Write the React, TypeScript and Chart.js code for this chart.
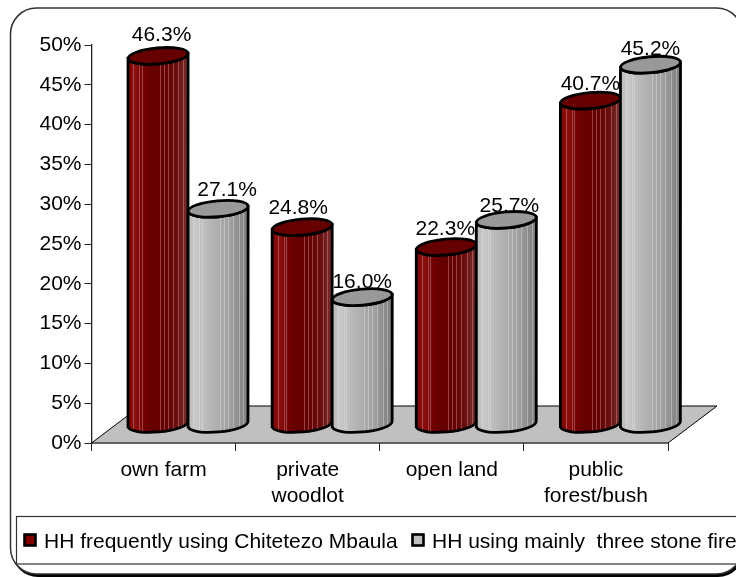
import React, { useEffect, useRef } from "react";
import { Chart, registerables } from "chart.js";

Chart.register(...registerables);

const categories = ["own farm", ["private", "woodlot"], "open land", ["public", "forest/bush"]];
const seriesChitetezo = [46.3, 24.8, 22.3, 40.7];
const seriesThreeStone = [27.1, 16.0, 25.7, 45.2];
const labelChitetezo = "HH frequently using Chitetezo Mbaula";
const labelThreeStone = "HH using mainly  three stone fire";

const FONT = '"Liberation Sans", Arial, sans-serif';
const DEPTH_X = 24.5;
const DEPTH_Y = -18.5;
const TILT = -0.09;
const RY = 8;

// Hand placement of the value labels relative to each cylinder's top.
const labelNudgeX = [[3.5, -4, -1, 0], [9, 0, 3, 0]];
const labelNudgeY = [[-21, -19, -18, -16], [-19, -15, -14, -16]];

type Look = { stops: [number, string][]; top: string; stripe: string; key: string };

const looks: Look[] = [
  {
    stops: [[0, "#7c0808"], [0.12, "#8c1010"], [0.27, "#720202"], [0.4, "#660000"], [0.62, "#660000"], [0.82, "#6a1010"], [1, "#7a3030"]],
    top: "#660000",
    stripe: "rgba(225,170,170,0.38)",
    key: "#800000",
  },
  {
    stops: [[0, "#b8b8b8"], [0.12, "#c8c8c8"], [0.4, "#b4b4b4"], [0.7, "#a0a0a0"], [1, "#7c7c7c"]],
    top: "#999999",
    stripe: "rgba(235,235,235,0.38)",
    key: "#c0c0c0",
  },
];

// Thin highlights across the cylinder wall, as fractions of its width.
const stripeOffsets = [0.09, 0.19, 0.23, 0.53, 0.6, 0.66, 0.75, 0.84, 0.92];

function drawCylinder(ctx: CanvasRenderingContext2D, cx: number, topY: number, baseY: number, w: number, look: Look) {
  const rx = w / 2;
  const left = cx - rx;
  const right = cx + rx;
  const lift = Math.sin(TILT) * rx;

  const wall = () => {
    ctx.beginPath();
    ctx.moveTo(left, topY - lift);
    ctx.lineTo(left, baseY - lift);
    ctx.ellipse(cx, baseY, rx, RY, TILT, Math.PI, 0, true);
    ctx.lineTo(right, topY + lift);
    ctx.ellipse(cx, topY, rx, RY, TILT, 0, Math.PI, false);
    ctx.closePath();
  };

  const grad = ctx.createLinearGradient(left, 0, right, 0);
  look.stops.forEach(([o, c]) => grad.addColorStop(o, c));

  ctx.save();
  wall();
  ctx.fillStyle = grad;
  ctx.fill();
  ctx.clip();
  ctx.strokeStyle = look.stripe;
  ctx.lineWidth = 1;
  stripeOffsets.forEach((f) => {
    const x = Math.round(left + f * w) + 0.5;
    ctx.beginPath();
    ctx.moveTo(x, topY - 20);
    ctx.lineTo(x, baseY + 20);
    ctx.stroke();
  });
  ctx.restore();

  ctx.lineWidth = 2.8;
  ctx.strokeStyle = "#000";
  wall();
  ctx.stroke();

  ctx.beginPath();
  ctx.ellipse(cx, topY, rx, RY, TILT, 0, Math.PI * 2);
  ctx.fillStyle = look.top;
  ctx.fill();
  ctx.stroke();
}

const cylinderPlugin = {
  id: "cylinders",
  beforeDraw(chart: any) {
    const { ctx, width, height } = chart;
    ctx.save();
    ctx.fillStyle = "#fff";
    ctx.fillRect(0, 0, width, height);
    // Rounded frame with its drop shadow along the lower edge.
    ctx.beginPath();
    ctx.roundRect(12, 10, 732, 567, 26);
    ctx.fillStyle = "#000";
    ctx.fill();
    ctx.beginPath();
    ctx.roundRect(10.5, 8, 732, 566, 26);
    ctx.fillStyle = "#fff";
    ctx.fill();
    ctx.strokeStyle = "#333";
    ctx.lineWidth = 1.5;
    ctx.stroke();
    ctx.restore();
  },
  beforeDatasetsDraw(chart: any) {
    const { ctx, chartArea } = chart;
    const { left, right, bottom } = chartArea;
    const backY = bottom + DEPTH_Y * 2;
    const sideX = DEPTH_X * 2;
    ctx.save();
    ctx.beginPath();
    ctx.moveTo(left, bottom);
    ctx.lineTo(left + sideX, backY);
    ctx.lineTo(right + sideX, backY);
    ctx.lineTo(right, bottom);
    ctx.closePath();
    ctx.fillStyle = "#c0c0c0";
    ctx.fill();
    ctx.strokeStyle = "#000";
    ctx.lineWidth = 1;
    ctx.stroke();
    ctx.restore();
  },
  afterDatasetsDraw(chart: any) {
    const { ctx } = chart;
    const metas = [chart.getDatasetMeta(0), chart.getDatasetMeta(1)];
    const sets = chart.data.datasets;
    ctx.save();
    categories.forEach((_, i) => {
      metas.forEach((meta, d) => {
        const bar = meta.data[i];
        const cx = bar.x + DEPTH_X;
        const topY = bar.y + DEPTH_Y;
        drawCylinder(ctx, cx, topY, bar.base + DEPTH_Y, bar.width, looks[d]);
        ctx.fillStyle = "#000";
        ctx.font = `21px ${FONT}`;
        ctx.textAlign = "center";
        ctx.textBaseline = "middle";
        ctx.fillText(`${sets[d].data[i].toFixed(1)}%`, cx + labelNudgeX[d][i], topY + labelNudgeY[d][i]);
      });
    });
    ctx.restore();
  },
  afterDraw(chart: any) {
    const { ctx, width } = chart;
    ctx.save();
    ctx.strokeStyle = "#333";
    ctx.lineWidth = 1.2;
    ctx.strokeRect(16.5, 516.5, width + 20, 47.5);
    ctx.font = `21px ${FONT}`;
    ctx.textAlign = "left";
    ctx.textBaseline = "alphabetic";
    const entries = [
      { box: 24.5, text: 44 },
      { box: 412.5, text: 432 },
    ];
    entries.forEach((e, d) => {
      ctx.fillStyle = looks[d].key;
      ctx.strokeStyle = "#000";
      ctx.lineWidth = 2.6;
      ctx.fillRect(e.box, 534.5, 11, 11);
      ctx.strokeRect(e.box, 534.5, 11, 11);
      ctx.fillStyle = "#000";
      ctx.fillText(chart.data.datasets[d].label, e.text, 548);
    });
    ctx.restore();
  },
};

export default function App() {
  const ref = useRef<HTMLCanvasElement>(null);
  useEffect(() => {
    const chart = new Chart(ref.current as HTMLCanvasElement, {
      type: "bar",
      data: {
        labels: categories as any,
        datasets: [
          { label: labelChitetezo, data: seriesChitetezo, backgroundColor: "transparent", borderWidth: 0 },
          { label: labelThreeStone, data: seriesThreeStone, backgroundColor: "transparent", borderWidth: 0 },
        ],
      },
      plugins: [cylinderPlugin],
      options: {
        responsive: false,
        animation: false,
        events: [],
        layout: { padding: { left: 0, right: 68, top: 45, bottom: 0 } },
        datasets: { bar: { categoryPercentage: 5 / 6, barPercentage: 1 } },
        plugins: { legend: { display: false }, tooltip: { enabled: false }, title: { display: false } },
        scales: {
          x: {
            grid: { drawOnChartArea: false, tickLength: 8, tickColor: "#222", offset: true },
            border: { color: "#222", width: 1.3 },
            ticks: { color: "#000", font: { family: FONT, size: 21 }, padding: 7, maxRotation: 0, autoSkip: false },
            afterFit: (s: any) => { s.height = 134; },
          },
          y: {
            min: 0,
            max: 50,
            grid: { drawOnChartArea: false, tickLength: 7, tickColor: "#222" },
            border: { color: "#222", width: 1.3 },
            ticks: { color: "#000", stepSize: 5, font: { family: FONT, size: 21 }, padding: 3, callback: (v: any) => `${v}%` },
            afterFit: (s: any) => { s.width = 91.5; },
          },
        },
      },
    } as any);
    return () => chart.destroy();
  }, []);
  return (
    <div style={{ position: "fixed", left: 0, top: 0, width: 736, height: 577, overflow: "hidden" }}>
      <canvas ref={ref} width={736} height={577} style={{ display: "block" }} />
    </div>
  );
}
